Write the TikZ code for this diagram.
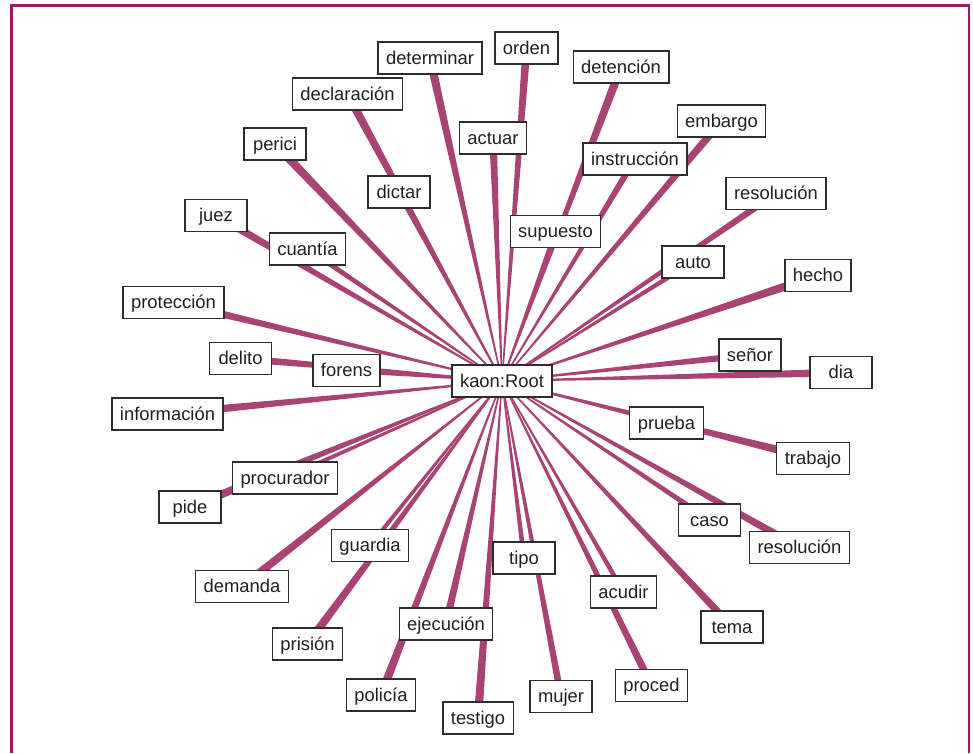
\documentclass[tikz,border=0pt]{standalone}
\usepackage{fontspec}
\setmainfont{Liberation Sans}
\usetikzlibrary{calc}
\pgfdeclarelayer{bg}
\pgfsetlayers{bg,main}
\definecolor{framecol}{RGB}{156,26,98}
\definecolor{edgecol}{RGB}{168,67,116}
\definecolor{boxline}{RGB}{45,45,45}
\definecolor{txt}{RGB}{35,31,32}
\tikzset{
  word/.style={draw=boxline, line width=1.2pt, fill=white, text=txt,
    font=\fontsize{18.4pt}{22pt}\selectfont, minimum width=62pt, minimum height=32pt,
    inner xsep=8pt, inner ysep=0pt, text height=14.5pt, text depth=2pt},
  frameline/.style={draw=framecol, line width=2.6pt},
  spokefill/.style={fill=edgecol}
}
\newcommand{\wspoke}[2]{\fill[spokefill] ($(root)!0.6pt!90:(#1)$) -- ($(#1)!#2!-90:(root)$) -- ($(#1)!#2!90:(root)$) -- ($(root)!0.6pt!-90:(#1)$) -- cycle;}
\begin{document}
\begin{tikzpicture}[x=1pt,y=-1pt]
\useasboundingbox (0,0) rectangle (973,753);

\node[word] (root) at (502,381) {kaon:Root};
\node[word] (determinar) at (430,58) {determinar};
\node[word] (orden) at (526.5,48) {orden};
\node[word] (declaracion) at (347.5,94) {declaración};
\node[word] (perici) at (275,144) {perici};
\node[word] (dictar) at (399,192) {dictar};
\node[word] (actuar) at (493,138) {actuar};
\node[word] (supuesto) at (555.5,231.5) {supuesto};
\node[word] (detencion) at (621,67) {detención};
\node[word] (embargo) at (721.5,121) {embargo};
\node[word] (instruccion) at (635,159) {instrucción};
\node[word] (resolA) at (776,193.5) {resolución};
\node[word] (auto) at (693,262) {auto};
\node[word] (hecho) at (818,275.5) {hecho};
\node[word] (juez) at (216,215.5) {juez};
\node[word] (cuantia) at (307.5,249) {cuantía};
\node[word] (proteccion) at (173.5,302.5) {protección};
\node[word] (delito) at (240.5,358.5) {delito};
\node[word] (forens) at (346.5,370.5) {forens};
\node[word] (informacion) at (167.5,414) {información};
\node[word] (procurador) at (285,478) {procurador};
\node[word] (pide) at (190,507) {pide};
\node[word] (guardia) at (370,545.5) {guardia};
\node[word] (demanda) at (242,586.5) {demanda};
\node[word] (prision) at (307.5,644) {prisión};
\node[word] (ejecucion) at (446,624) {ejecución};
\node[word] (policia) at (381,695) {policía};
\node[word] (testigo) at (478,718) {testigo};
\node[word] (tipo) at (524,558) {tipo};
\node[word] (acudir) at (623.5,592) {acudir};
\node[word] (tema) at (732,627) {tema};
\node[word] (proced) at (651.5,685.5) {proced};
\node[word] (mujer) at (561,696.5) {mujer};
\node[word] (senor) at (750,355) {señor};
\node[word] (dia) at (841,372.5) {dia};
\node[word] (prueba) at (666.5,423) {prueba};
\node[word] (trabajo) at (813,458.5) {trabajo};
\node[word] (caso) at (709.5,520) {caso};
\node[word] (resolB) at (799.5,547.5) {resolución};

\begin{pgfonlayer}{bg}
\fill[white] (0,0) rectangle (973,753);
\draw[frameline] (11.5,753) -- (11.5,5.7) -- (968.8,5.7) -- (968.8,753);
\wspoke{determinar}{4.3pt}
\wspoke{orden}{4pt}
\wspoke{declaracion}{4.3pt}
\wspoke{perici}{4.5pt}
\wspoke{dictar}{3pt}
\wspoke{actuar}{3.8pt}
\wspoke{supuesto}{2.3pt}
\wspoke{detencion}{4.3pt}
\wspoke{embargo}{4pt}
\wspoke{instruccion}{3.3pt}
\wspoke{resolA}{3.5pt}
\wspoke{auto}{2.5pt}
\wspoke{hecho}{4.5pt}
\wspoke{juez}{4pt}
\wspoke{cuantia}{2.8pt}
\wspoke{proteccion}{4pt}
\wspoke{delito}{3.8pt}
\wspoke{forens}{2.5pt}
\wspoke{informacion}{4.3pt}
\wspoke{procurador}{2.3pt}
\wspoke{pide}{4.3pt}
\wspoke{guardia}{2.3pt}
\wspoke{demanda}{4.3pt}
\wspoke{prision}{4.3pt}
\wspoke{ejecucion}{3.8pt}
\wspoke{policia}{4.3pt}
\wspoke{testigo}{4.3pt}
\wspoke{tipo}{2.5pt}
\wspoke{acudir}{2.5pt}
\wspoke{tema}{3.8pt}
\wspoke{proced}{3.8pt}
\wspoke{mujer}{3.5pt}
\wspoke{senor}{3.5pt}
\wspoke{dia}{4pt}
\wspoke{prueba}{2pt}
\wspoke{trabajo}{4.3pt}
\wspoke{caso}{2.8pt}
\wspoke{resolB}{4pt}
\end{pgfonlayer}
\end{tikzpicture}
\end{document}
